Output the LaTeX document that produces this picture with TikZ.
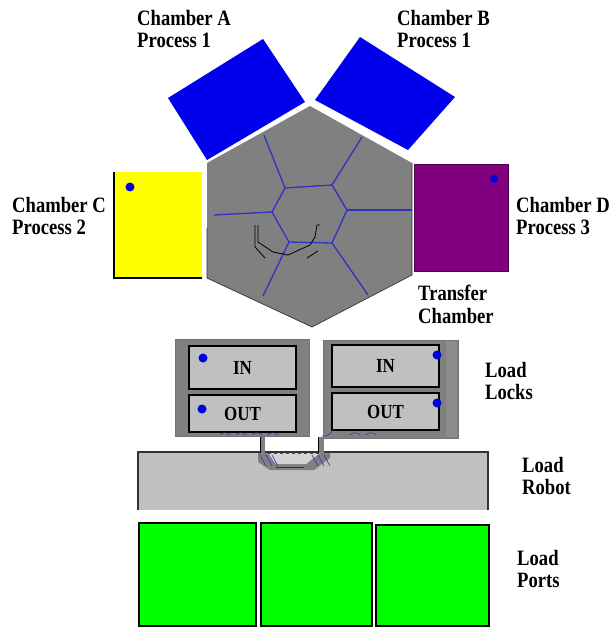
\documentclass[tikz,border=0pt]{standalone}
\usepackage{fontspec}
\setmainfont[FakeStretch=0.85]{Liberation Serif}
\definecolor{hexgray}{RGB}{128,128,128}
\definecolor{procblue}{RGB}{0,0,235}
\definecolor{slotgray}{RGB}{192,192,192}
\definecolor{spokeblue}{RGB}{50,50,190}
\definecolor{dotblue}{RGB}{0,0,220}
\definecolor{portgreen}{RGB}{0,255,0}
\definecolor{chamberyellow}{RGB}{255,255,0}
\definecolor{chamberpurple}{RGB}{128,0,128}
\begin{document}
\begin{tikzpicture}[x=1bp,y=-1bp,
  tag/.style={anchor=north west,inner sep=0pt,align=left,font=\fontsize{22}{22.5}\selectfont\bfseries},
  slot/.style={draw=black,line width=1.2bp,fill=slotgray,minimum width=107bp,inner sep=0pt,font=\fontsize{20}{20}\selectfont\bfseries},
  spot/.style={fill=dotblue},
  spoke/.style={spokeblue,line width=1.3bp}]
\useasboundingbox[fill=white] (0,0) rectangle (610,628);
%process chambers
\fill[procblue] (168,98) -- (263,39) -- (305,102) -- (207,160) -- cycle;
\fill[procblue] (315,100) -- (360,37) -- (455,97) -- (408,150) -- cycle;
\fill[chamberyellow] (114,172) rectangle (202,278);
\draw[black,line width=1.2bp] (114,172) -- (114,278) -- (202,278);
\fill[spot] (130,187) circle (4.5);
\filldraw[fill=chamberpurple,draw=chamberpurple!60!black,line width=1bp] (414,165) rectangle (508,271);
\fill[spot] (494,179) circle (4);
%transfer chamber
\fill[hexgray] (310,106) -- (412,163) -- (412,275) -- (312,327) -- (207,278) -- (207,163) -- cycle;
\draw[black!80,line width=.7bp] (207,228) -- (207,278) -- (312,327) -- (412,275) -- (412,163);
\draw[spoke] (285,188) -- (332,185) -- (347,210) -- (332,243) -- (289,242) -- (272,212) -- cycle;
\draw[spoke] (285,188) -- (264,135);
\draw[spoke] (332,185) -- (362,137);
\draw[spoke] (347,210) -- (412,210);
\draw[spoke] (272,212) -- (214,215);
\draw[spoke] (289,242) -- (263,296);
\draw[spoke] (332,243) -- (368,295);
%transfer robot
\draw[black,line width=.8bp] (255,225) -- (255,247) -- (265,258);
\draw[black,line width=.8bp] (258,225) -- (258,242) -- (273,252) -- (288,255) -- (310,245) -- (315,237) -- (317,225) -- (320,225);
\draw[black,line width=.8bp] (307,258) -- (318,251);
%load locks
\filldraw[fill=hexgray,draw=black!55,line width=.6bp] (175,339) rectangle (309,436);
\filldraw[fill=hexgray,draw=black!55,line width=.6bp] (323,340) rectangle (458,438);
\fill[black!45] (446,341) rectangle (457,437);
\node[slot,minimum height=43bp] (inL) at (242.5,367.5) {IN};
\node[slot,minimum height=37bp] (outL) at (242.5,413.5) {OUT};
\node[slot,minimum height=42bp] (inR) at (385.5,366) {IN};
\node[slot,minimum height=37bp] (outR) at (385.5,411.5) {OUT};
\fill[spot] (203,358) circle (4.5);
\fill[spot] (202,409) circle (4.5);
\fill[spot] (437,355) circle (4.5);
\fill[spot] (437,403) circle (4.5);
\foreach \a in {220,236,252,268,350,366}
  \draw[spokeblue,line width=.6bp] (\a,435) to[bend left=50] (\a+10,435);
%load robot
\fill[slotgray] (138,452) rectangle (488,510);
\draw[black!80,line width=1.2bp] (138,510) -- (138,452) -- (488,452) -- (488,510);
\fill[hexgray] (260,437) rectangle (265,453);
\fill[hexgray] (318,437) rectangle (324,453);
\draw[black,line width=.8bp] (260,437) -- (260,453);
\draw[black,line width=.8bp] (318,437) -- (318,453);
\fill[hexgray] (258,453) -- (330,453) -- (330,458) -- (314,470) -- (270,470) -- (258,462) -- cycle;
\fill[slotgray!70!white] (268,453) -- (320,453) -- (306,464) -- (276,464) -- cycle;
\draw[black!70,dashed,line width=.7bp] (268,453) -- (320,453);
\draw[black!80,line width=.8bp] (276,467) -- (304,467);
\foreach \a in {260,266,272,312,318,324}
  \draw[spokeblue,line width=.6bp] (\a,455) -- (\a+6,466);
\draw[spokeblue,line width=.6bp] (322,436) to[bend right=40] (333,429);
%load ports
\filldraw[fill=portgreen,draw=black,line width=1.2bp] (139,523) rectangle (256,626);
\filldraw[fill=portgreen,draw=black,line width=1.2bp] (261,523) rectangle (372,626);
\filldraw[fill=portgreen,draw=black,line width=1.2bp] (376,525) rectangle (489,626);
%labels
\node[tag] (tagA) at (137,10) {Chamber A\\Process 1};
\node[tag] (tagB) at (397,10) {Chamber B\\Process 1};
\node[tag] (tagC) at (12,197) {Chamber C\\Process 2};
\node[tag] (tagD) at (516,197) {Chamber D\\Process 3};
\node[tag] (tagT) at (418,285) {Transfer\\Chamber};
\node[tag] (tagL) at (485,362) {Load\\Locks};
\node[tag] (tagR) at (522,457) {Load\\Robot};
\node[tag] (tagP) at (517,550) {Load\\Ports};
\end{tikzpicture}
\end{document}
